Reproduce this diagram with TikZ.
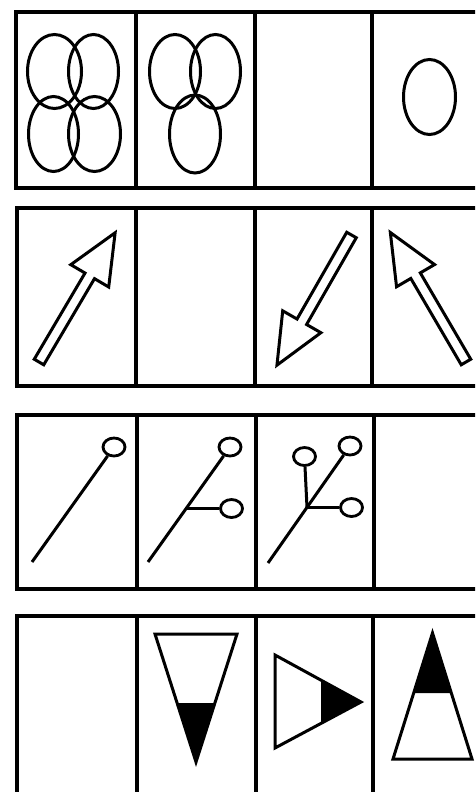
\documentclass[tikz,border=0pt]{standalone}
\usetikzlibrary{shapes.geometric}
\begin{document}
\begin{tikzpicture}[
    x=1pt, y=-1pt,
    frame/.style={line width=3.3pt},
    shapeline/.style={line width=3pt, line join=miter},
    stem/.style={line width=3pt},
    bead/.style={ellipse, draw, line width=2.8pt, minimum width=22pt, minimum height=18pt, inner sep=0pt},
    hollowarrow/.pic={
        \draw[shapeline] (0,-5.5) -- (100,-5.5) -- (100,-22) -- (150,0) -- (100,22) -- (100,5.5) -- (0,5.5) -- cycle;
    }
]
\useasboundingbox (0,0) rectangle (475,792);
\clip (0,0) rectangle (475,792);

% Frames of the four rows
\foreach \ya/\yb/\xa/\xb/\xc/\xl in {12/188/136/255/372/16, 208/386/136/255/372/17, 415/589/137/256/374/17, 616/810/137/256/373/17} {
    \draw[frame] (\xl,\ya) rectangle (510,\yb);
    \foreach \xd in {\xa,\xb,\xc}
        \draw[frame] (\xd,\ya) -- (\xd,\yb);
}

% Row 1: ellipses
\draw[shapeline] (54.5,71.5) ellipse (27pt and 37pt);
\draw[shapeline] (93.5,71.5) ellipse (25pt and 37pt);
\draw[shapeline] (53.5,134) ellipse (25pt and 37.5pt);
\draw[shapeline] (94.5,134) ellipse (26pt and 37.5pt);
\draw[shapeline] (175,71.5) ellipse (25.5pt and 37pt);
\draw[shapeline] (215.5,71.5) ellipse (25pt and 37pt);
\draw[shapeline] (195,134) ellipse (25.5pt and 39pt);
\draw[shapeline] (429.5,97) ellipse (26pt and 37.5pt);

% Row 2: hollow arrows
\pic[rotate=59.5] at (39,362) {hollowarrow};
\pic[rotate=240.2] at (351.5,235) {hollowarrow};
\pic[rotate=120.3] at (466,362) {hollowarrow};

% Row 3: stems with beads
\node[bead] (b1) at (114,447) {};
\coordinate (s1) at (32,562);
\draw[stem] (s1) -- (b1);

\node[bead] (b2) at (230,447) {};
\node[bead] (b3) at (231.5,508.5) {};
\coordinate (s2) at (148,562);
\coordinate (j2) at (186,508.5);
\draw[stem] (s2) -- (b2);
\draw[stem] (j2) -- (b3);

\node[bead] (b4) at (304.5,456.5) {};
\node[bead] (b5) at (350,446) {};
\node[bead] (b6) at (351.5,507.5) {};
\coordinate (s3) at (268,563);
\coordinate (j3) at (307,507.5);
\draw[stem] (s3) -- (b5);
\draw[stem] (j3) -- (b6);
\draw[stem] (j3) -- (b4);

% Row 4: half-filled triangles
\fill (177,703) -- (215,703) -- (196,762) -- cycle;
\draw[shapeline] (155,634) -- (237,634) -- (196,762) -- cycle;
\fill (321,680) -- (321,723) -- (361,702) -- cycle;
\draw[shapeline] (275,655) -- (275,748) -- (361,702) -- cycle;
\fill (432.5,633) -- (451,693) -- (413.5,693) -- cycle;
\draw[shapeline] (432.5,633) -- (472,759) -- (393,759) -- cycle;

\end{tikzpicture}
\end{document}
